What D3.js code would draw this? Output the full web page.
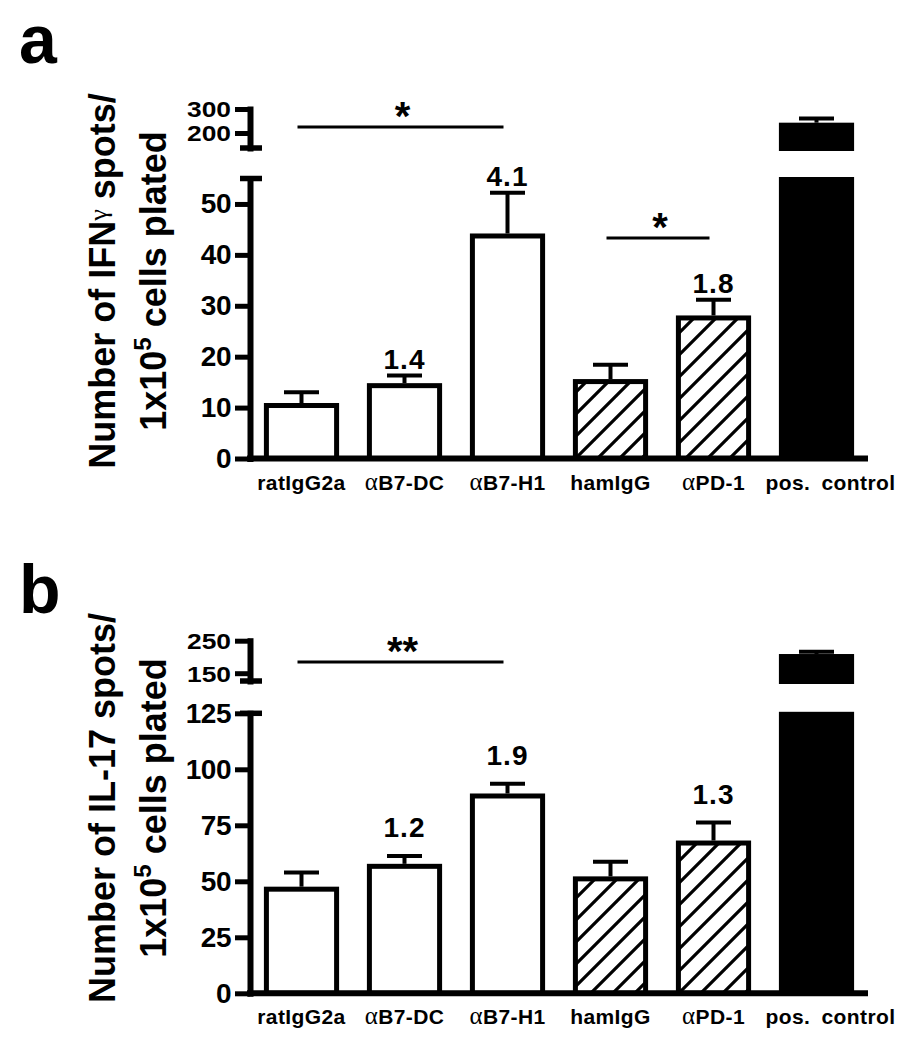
<!DOCTYPE html>
<html><head><meta charset="utf-8">
<script src="https://cdn.jsdelivr.net/npm/d3@7"></script>
<style>
body{margin:0;background:#fff}
svg{display:block}
text{font-family:"Liberation Sans",Arial,Helvetica,sans-serif;font-weight:bold;fill:#000}
</style>
</head><body>
<svg id="chart" width="918" height="1050"></svg>
<script>
// ---------- data ----------
const categories = ["ratIgG2a", "αB7-DC", "αB7-H1", "hamIgG", "αPD-1", "pos. control"];
const barStyles  = ["open", "open", "open", "hatch", "hatch", "solid"];

// panel a: IFN-gamma
const ifnMeans = [10.9, 14.8, 44.2, 15.6, 28.1, 243];
const ifnSems  = [2.1, 1.5, 8.0, 2.8, 3.1, 17];
const ifnFold  = ["", "1.4", "4.1", "", "1.8", ""];
const ifnLowTicks  = [0, 10, 20, 30, 40, 50];
const ifnHighTicks = [200, 300];
const ifnSig = [
  {from: "ratIgG2a", to: "αB7-H1", label: "*"},
  {from: "hamIgG", to: "αPD-1", label: "*"}
];

// panel b: IL-17
const il17Means = [47.6, 57.8, 89.2, 52.2, 68.2, 209];
const il17Sems  = [6.3, 3.5, 4.3, 6.5, 8.0, 7];
const il17Fold  = ["", "1.2", "1.9", "", "1.3", ""];
const il17LowTicks  = [0, 25, 50, 75, 100, 125];
const il17HighTicks = [150, 250];
const il17Sig = [
  {from: "ratIgG2a", to: "αB7-H1", label: "**"}
];

// ---------- layout ----------
const svg = d3.select("#chart");
const axisX = 250;
const xScale = d3.scaleBand().domain(categories).range([250, 868]).paddingInner(0.27).paddingOuter(0.135);

const defs = svg.append("defs");
const pat = defs.append("pattern").attr("id", "hatch").attr("patternUnits", "userSpaceOnUse")
  .attr("width", 22).attr("height", 22);
pat.append("rect").attr("width", 22).attr("height", 22).attr("fill", "#fff");
pat.append("path").attr("d", "M-5.5,5.5L5.5,-5.5M0,22L22,0M16.5,27.5L27.5,16.5")
  .attr("stroke", "#000").attr("stroke-width", 3.2);

const panels = [
  {
    letter: "a", letterY: 63,
    means: ifnMeans, sems: ifnSems, fold: ifnFold, sig: ifnSig,
    lowDomain: [0, 55], lowRange: [458.5, 178.5],
    highDomain: [137.5, 300], highRange: [148, 109],
    lowTicks: ifnLowTicks, highTicks: ifnHighTicks,
    sigY: [127, 238], foldGap: 7,
    titleCY: 281,
    title1: ["Number of IFN", "γ", " spots/"],
    title2: "cells plated"
  },
  {
    letter: "b", letterY: 613,
    means: il17Means, sems: il17Sems, fold: il17Fold, sig: il17Sig,
    lowDomain: [0, 125], lowRange: [993.3, 713.3],
    highDomain: [126, 250], highRange: [681, 640.7],
    lowTicks: il17LowTicks, highTicks: il17HighTicks,
    sigY: [662], foldGap: 19,
    titleCY: 808,
    title1: ["Number of IL-17 spots/"],
    title2: "cells plated"
  }
];

panels.forEach(p => {
  const g = svg.append("g");
  const yLow = d3.scaleLinear().domain(p.lowDomain).range(p.lowRange);
  const yHigh = d3.scaleLinear().domain(p.highDomain).range(p.highRange);
  const y0 = yLow(0);
  const bw = xScale.bandwidth();

  // panel letter
  g.append("text").attr("x", 19).attr("y", p.letterY).attr("font-size", 68).text(p.letter);

  // y title
  const t1 = g.append("text").attr("transform", `translate(115,${p.titleCY}) rotate(-90)`)
    .attr("text-anchor", "middle").attr("font-size", 36);
  p.title1.forEach(s => {
    const ts = t1.append("tspan").text(s);
    if (s === "γ") ts.attr("font-family", "'Liberation Serif',serif").attr("font-weight", "normal")
      .attr("font-size", 26).attr("dy", -8);
    else if (s === " spots/") ts.attr("dy", 8);
  });
  const t2 = g.append("text").attr("transform", `translate(166,${p.titleCY}) rotate(-90)`)
    .attr("text-anchor", "middle").attr("font-size", 36);
  t2.append("tspan").text("1x10");
  t2.append("tspan").text("5").attr("font-size", 24).attr("dy", -15);
  t2.append("tspan").text(" " + p.title2).attr("dy", 15);

  // bars
  categories.forEach((c, i) => {
    const v = p.means[i], e = v + p.sems[i];
    const x0 = xScale(c), cx = x0 + bw / 2;
    const style = barStyles[i];
    const broken = v > p.lowDomain[1];
    const segs = broken
      ? [[yLow(p.lowDomain[1]) - 1.5, y0], [yHigh(v), yHigh(p.highDomain[0]) + 3]]
      : [[yLow(v), y0]];
    segs.forEach(([top, bot]) => {
      if (style === "solid") {
        g.append("rect").attr("x", x0).attr("y", top).attr("width", bw).attr("height", bot - top).attr("fill", "#000");
      } else {
        g.append("rect").attr("x", x0 + 2.5).attr("y", top + 2.5).attr("width", bw - 5).attr("height", bot - top - 2.5)
          .attr("fill", style === "hatch" ? "url(#hatch)" : "#fff")
          .attr("stroke", "#000").attr("stroke-width", 5);
      }
    });
    // error bar
    const ys = broken ? yHigh : yLow;
    const topY = ys(v), errY = ys(e);
    g.append("line").attr("x1", cx).attr("x2", cx).attr("y1", topY).attr("y2", errY)
      .attr("stroke", "#000").attr("stroke-width", 4);
    g.append("line").attr("x1", cx - 17.5).attr("x2", cx + 17.5).attr("y1", errY).attr("y2", errY)
      .attr("stroke", "#000").attr("stroke-width", 4);
    if (p.fold[i]) {
      g.append("text").attr("x", cx).attr("y", errY - p.foldGap).attr("text-anchor", "middle")
        .attr("font-size", 28).attr("letter-spacing", 1).text(p.fold[i]);
    }
    // category label
    const lab = g.append("text").attr("x", cx + (c === "pos. control" ? 14 : 0)).attr("y", y0 + 31)
      .attr("text-anchor", "middle").attr("font-size", 21).attr("letter-spacing", 0.4)
      .attr("word-spacing", 5);
    if (c.startsWith("α")) {
      lab.append("tspan").text("α").attr("font-family", "'Liberation Serif',serif")
        .attr("font-weight", "normal").attr("font-size", 25);
      lab.append("tspan").text(c.slice(1));
    } else lab.text(c);
  });

  // y axes
  const styleAxis = (sel) => {
    sel.select(".domain").attr("stroke", "#000").attr("stroke-width", 6).attr("stroke-linecap", "square");
    sel.selectAll(".tick line").attr("stroke", "#000").attr("stroke-width", 5);
    sel.selectAll(".tick text").attr("fill", "#000").attr("font-family", "'Liberation Sans',Arial,sans-serif")
      .attr("font-weight", "bold");
  };
  const lowAxis = g.append("g").attr("transform", `translate(${axisX},0)`)
    .call(d3.axisLeft(yLow).tickValues(p.lowTicks).tickSize(15).tickSizeOuter(0).tickPadding(4));
  styleAxis(lowAxis);
  lowAxis.selectAll(".tick text").attr("font-size", 28).attr("letter-spacing", -0.5);
  const highAxis = g.append("g").attr("transform", `translate(${axisX},0)`)
    .call(d3.axisLeft(yHigh).tickValues(p.highTicks).tickSize(15).tickSizeOuter(0).tickPadding(4));
  styleAxis(highAxis);
  highAxis.selectAll(".tick text").attr("font-size", 22).attr("dy", "0.36em")
    .attr("textLength", 44).attr("lengthAdjust", "spacingAndGlyphs");
  // break caps
  [yLow(p.lowDomain[1]), yHigh(p.highDomain[0])].forEach(yy => {
    g.append("line").attr("x1", axisX - 10).attr("x2", axisX + 12).attr("y1", yy).attr("y2", yy)
      .attr("stroke", "#000").attr("stroke-width", 5.5);
  });

  // x axis
  g.append("line").attr("x1", axisX - 3).attr("x2", xScale.range()[1]).attr("y1", y0).attr("y2", y0)
    .attr("stroke", "#000").attr("stroke-width", 6);

  // significance
  p.sig.forEach((s, k) => {
    const xa = xScale(s.from) + bw / 2 - 4, xb = xScale(s.to) + bw / 2 - 4;
    const yy = p.sigY[k];
    g.append("line").attr("x1", xa).attr("x2", xb).attr("y1", yy).attr("y2", yy)
      .attr("stroke", "#000").attr("stroke-width", 3);
    g.append("text").attr("x", (xa + xb) / 2 + 2).attr("y", yy + 3).attr("text-anchor", "middle")
      .attr("font-size", 40).text(s.label);
  });
});
</script>
</body></html>
